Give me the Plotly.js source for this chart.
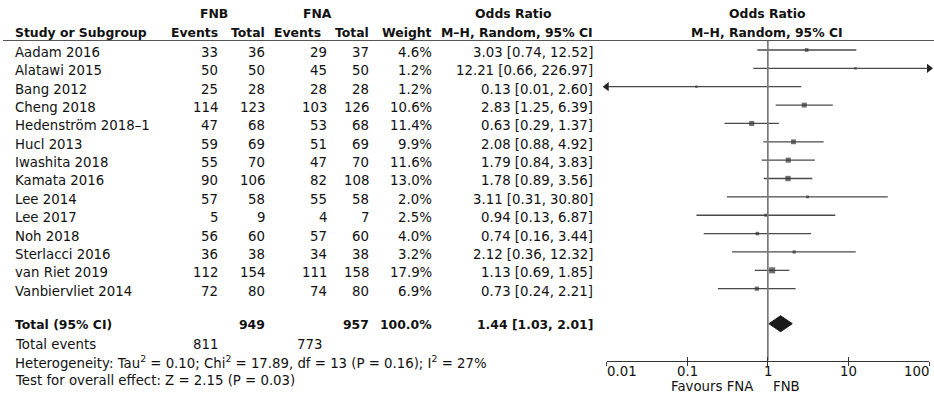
<!DOCTYPE html>
<html>
<head>
<meta charset="utf-8">
<script src="https://cdn.plot.ly/plotly-3.0.1.min.js"></script>
<style>html,body{margin:0;padding:0;background:#fff;}#chart{width:934px;height:394px;}</style>
</head>
<body>
<div id="chart"></div>
<script>
// ---- data ----
const studies = ["Aadam 2016","Alatawi 2015","Bang 2012","Cheng 2018","Hedenström 2018–1","Hucl 2013","Iwashita 2018","Kamata 2016","Lee 2014","Lee 2017","Noh 2018","Sterlacci 2016","van Riet 2019","Vanbiervliet 2014"];
const fnbEvents = [33,50,25,114,47,59,55,90,57,5,56,36,112,72];
const fnbTotal  = [36,50,28,123,68,69,70,106,58,9,60,38,154,80];
const fnaEvents = [29,45,28,103,53,51,47,82,55,4,57,34,111,74];
const fnaTotal  = [37,50,28,126,68,69,70,108,58,7,60,38,158,80];
const weights   = [4.6,1.2,1.2,10.6,11.4,9.9,11.6,13.0,2.0,2.5,4.0,3.2,17.9,6.9];
const orEst     = [3.03,12.21,0.13,2.83,0.63,2.08,1.79,1.78,3.11,0.94,0.74,2.12,1.13,0.73];
const ciLow     = [0.74,0.66,0.01,1.25,0.29,0.88,0.84,0.89,0.31,0.13,0.16,0.36,0.69,0.24];
const ciHigh    = [12.52,226.97,2.60,6.39,1.37,4.92,3.83,3.56,30.80,6.87,3.44,12.32,1.85,2.21];
const total = {fnbEvents:811, fnbTotal:949, fnaEvents:773, fnaTotal:957, weight:100.0, or:1.44, lo:1.03, hi:2.01};
const heterogeneity = "Heterogeneity: Tau<sup>2</sup> = 0.10; Chi<sup>2</sup> = 17.89, df = 13 (P = 0.16); I<sup>2</sup> = 27%";
const overallTest = "Test for overall effect: Z = 2.15 (P = 0.03)";
const tickVals = [0.01,0.1,1,10,100];
const tickText = ["0.01","0.1","1","10","100"];
const axisMin = 0.01, axisMax = 100;

// ---- layout helpers (pixel geometry) ----
const W = 934, H = 394;
const FONT = "DejaVu Sans";
const REG = 13.3, BOLD = 12.4;
const rowMark = i => 50 + 18.36 * i;
const rowText = i => 52.4 + 18.36 * i;
const totalMarkY = 323.7;
const axisY = 360.5;
const px = x => x / W;
const py = y => 1 - y / H;

const annotations = [];
function txt(text, x, y, anchor, bold) {
  annotations.push({
    text: bold ? "<b>" + text + "</b>" : text,
    xref: "paper", yref: "paper", x: px(x), y: py(y),
    xanchor: anchor, yanchor: "middle", showarrow: false,
    borderpad: 0, borderwidth: 0,
    font: {family: FONT, size: bold ? BOLD : REG, color: "#111"}
  });
}

// column right edges
const C = {ev1: 218, tot1: 265, ev2: 327, tot2: 369, wt: 432, or: 593};

// headers
txt("FNB", 213.5, 14, "center", true);
txt("FNA", 317.5, 14, "center", true);
txt("Odds Ratio", 513.5, 14, "center", true);
txt("Odds Ratio", 767.5, 14, "center", true);
txt("Study or Subgroup", 15, 32, "left", true);
txt("Events", 218, 32, "right", true);
txt("Total", 265, 32, "right", true);
txt("Events", 321, 32, "right", true);
txt("Total", 369, 32, "right", true);
txt("Weight", 432, 32, "right", true);
txt("M–H, Random, 95% CI", 593, 32, "right", true);
txt("M–H, Random, 95% CI", 767, 32, "center", true);

const fmtCI = (o, l, h) => o.toFixed(2) + " [" + l.toFixed(2) + ", " + h.toFixed(2) + "]";

studies.forEach((s, i) => {
  const y = rowText(i);
  txt(s, 15, y, "left");
  txt(String(fnbEvents[i]), C.ev1, y, "right");
  txt(String(fnbTotal[i]), C.tot1, y, "right");
  txt(String(fnaEvents[i]), C.ev2, y, "right");
  txt(String(fnaTotal[i]), C.tot2, y, "right");
  txt(weights[i].toFixed(1) + "%", C.wt, y, "right");
  txt(fmtCI(orEst[i], ciLow[i], ciHigh[i]), C.or, y, "right");
});

// totals
txt("Total (95% CI)", 15, 324.5, "left", true);
txt(String(total.fnbTotal), C.tot1, 324.5, "right", true);
txt(String(total.fnaTotal), C.tot2, 324.5, "right", true);
txt(total.weight.toFixed(1) + "%", C.wt, 324.5, "right", true);
txt(fmtCI(total.or, total.lo, total.hi), C.or, 324.5, "right", true);
txt("Total events", 15, 344, "left");
txt(String(total.fnbEvents), C.ev1, 344, "right");
txt(String(total.fnaEvents), 322, 344, "right");
txt(heterogeneity, 15, 361.7, "left");
txt(overallTest, 15, 380, "left");
txt("Favours FNA", 753, 386.6, "right");
txt("FNB", 773, 386.6, "left");

// tick labels, placed on the log axis (annotation x in log10 units)
tickVals.forEach((v, k) => {
  annotations.push({
    text: tickText[k], xref: "x", yref: "paper", x: Math.log10(v), y: py(371.7),
    xanchor: k === 0 ? "left" : (k === tickVals.length - 1 ? "right" : "center"),
    yanchor: "middle", showarrow: false, borderpad: 0, borderwidth: 0,
    font: {family: FONT, size: REG, color: "#111"}
  });
});

// ---- traces ----
const lineX = [], lineY = [];
const arrowR = {x: [], y: []}, arrowL = {x: [], y: []};
studies.forEach((s, i) => {
  const lo = Math.max(ciLow[i], axisMin), hi = Math.min(ciHigh[i], axisMax);
  lineX.push(lo, hi, null);
  lineY.push(rowMark(i), rowMark(i), null);
  if (ciHigh[i] > axisMax) { arrowR.x.push(axisMax); arrowR.y.push(rowMark(i)); }
  if (ciLow[i] <= axisMin) { arrowL.x.push(axisMin); arrowL.y.push(rowMark(i)); }
});

const traces = [
  { // line of no effect
    x: [1, 1], y: [40.5, axisY], mode: "lines", xaxis: "x2", yaxis: "y",
    line: {color: "#7a7a7a", width: 1.7}, hoverinfo: "skip", showlegend: false
  },
  {
    x: lineX, y: lineY, mode: "lines", connectgaps: false,
    line: {color: "#4a4a4a", width: 1.3}, hoverinfo: "skip", showlegend: false
  },
  {
    x: orEst, y: studies.map((s, i) => rowMark(i)), mode: "markers",
    marker: {symbol: "square", color: "#333", size: weights.map(w => 1.2 + 1.15 * Math.sqrt(w)), line: {width: 0}},
    cliponaxis: false, hoverinfo: "skip", showlegend: false
  },
  {
    x: arrowR.x, y: arrowR.y, mode: "markers", cliponaxis: false,
    marker: {symbol: "triangle-right", color: "#222", size: 8, line: {width: 0}},
    hoverinfo: "skip", showlegend: false
  },
  {
    x: arrowL.x, y: arrowL.y, mode: "markers", cliponaxis: false,
    marker: {symbol: "triangle-left", color: "#222", size: 8, line: {width: 0}},
    hoverinfo: "skip", showlegend: false
  },
  { // pooled diamond
    x: [total.lo, total.or, total.hi, total.or, total.lo],
    y: [totalMarkY, totalMarkY - 8, totalMarkY, totalMarkY + 8, totalMarkY],
    mode: "lines", fill: "toself", fillcolor: "#1a1a1a",
    line: {color: "#1a1a1a", width: 1}, hoverinfo: "skip", showlegend: false
  }
];

const dom = [px(606.7), px(929)];
const layout = {
  width: W, height: H, autosize: false,
  margin: {l: 0, r: 0, t: 0, b: 0, pad: 0},
  paper_bgcolor: "#fff", plot_bgcolor: "rgba(0,0,0,0)",
  showlegend: false,
  xaxis: {
    type: "log", range: [Math.log10(axisMin), Math.log10(axisMax)], domain: dom,
    anchor: "free", position: py(axisY),
    showline: true, linecolor: "#333", linewidth: 1,
    ticks: "outside", ticklen: 4, tickwidth: 1, tickcolor: "#333",
    tickmode: "array", tickvals: tickVals, showticklabels: false,
    showgrid: false, zeroline: false, fixedrange: true
  },
  xaxis2: {
    type: "log", range: [Math.log10(axisMin), Math.log10(axisMax)], domain: dom,
    overlaying: "x", anchor: "free", position: py(axisY),
    showline: false, ticks: "inside", ticklen: 4, tickwidth: 1, tickcolor: "#333",
    tickmode: "array", tickvals: tickVals, showticklabels: false,
    showgrid: false, zeroline: false, fixedrange: true
  },
  yaxis: {range: [H, 0], domain: [0, 1], visible: false, fixedrange: true},
  shapes: [{
    type: "line", xref: "paper", yref: "paper", x0: px(3), x1: 1, y0: py(40.5), y1: py(40.5),
    line: {color: "#555", width: 1}
  }],
  annotations: annotations
};

Plotly.newPlot("chart", traces, layout, {displayModeBar: false, staticPlot: true});
</script>
</body>
</html>
